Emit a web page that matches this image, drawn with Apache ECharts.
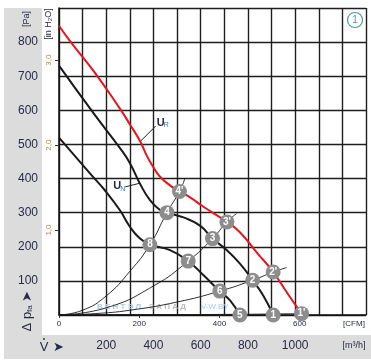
<!DOCTYPE html>
<html><head><meta charset="utf-8">
<script src="https://cdn.jsdelivr.net/npm/echarts@6/dist/echarts.min.js"></script>
<style>html,body{margin:0;padding:0;background:#fff}#c{width:371px;height:364px}</style>
</head><body><div id="c"></div>
<script>
// tick labels
const flowTicks = [200, 400, 600, 800, 1000];      // m3/h
const cfmTicks = [0, 200, 400, 600];                // CFM
const paTicks = [100, 200, 300, 400, 500, 600, 700, 800];
const inH2OTicks = [1, 2, 3];

// fan curves (flow m3/h, pressure Pa)
const qR = [0, 50, 150, 258, 301, 343, 371, 399, 427, 470, 510, 555, 610, 711, 767, 838, 907, 965, 1027];
const pR = [848, 800, 712, 605, 558, 510, 468, 434, 406, 380, 362, 345, 318, 273, 242, 183, 126, 66, 4];
const qN = [0, 150, 266, 301, 343, 386, 428, 457, 527, 597, 650, 711, 767, 820, 866, 907];
const pN = [731, 588, 482, 444, 385, 336, 308, 300, 286, 262, 224, 190, 150, 102, 56, 0];
const qL = [0, 131, 195, 258, 301, 343, 385, 470, 547, 611, 681, 725, 766];
const pL = [520, 415, 365, 307, 258, 224, 206, 190, 158, 117, 70, 42, 0];

// system curves
const qSA = [0, 100, 200, 300, 385, 457, 510, 533];
const pSA = [0, 14, 56, 128, 206, 300, 362, 400];
const qSB = [0, 200, 400, 547, 650, 711, 752];
const pSB = [0, 21, 85, 158, 224, 273, 297];
const qSC = [0, 150, 300, 500, 681, 820, 907, 964];
const pSC = [0, 4, 14, 38, 70, 102, 126, 139];
const qSD = [0, 400, 766, 907, 1027];
const pSD = [0, 1, 2, 3, 4];

// operating points
const ptNames = ['1', '2', '3', '4', '5', '6', '7', '8', "1'", "2'", "3'", "4'"];
const ptQ = [907, 820, 650, 457, 766, 681, 547, 385, 1027, 907, 711, 510];
const ptP = [0, 102, 224, 300, 0, 70, 158, 206, 4, 126, 273, 362];

const zip = (a, b) => a.map((v, i) => [v, b[i]]);
const CFM = 1.69901;
const navy = '#262b47';
const gridCol = '#1e1e1e';

const chart = echarts.init(document.getElementById('c'), null, {renderer: 'canvas'});

function sysSeries(q, p) {
  return {type: 'line', data: zip(q, p), smooth: 0.5, showSymbol: false,
    lineStyle: {color: '#1a1a1a', width: 0.9}, z: 3, silent: true};
}

const option = {
  backgroundColor: '#fff',
  animation: false,
  grid: {left: 59, top: 8, width: 307, height: 307, containLabel: false},
  xAxis: [
    {type: 'value', min: 0, max: 1300, interval: 100, position: 'bottom',
     axisLine: {show: true, onZero: false, lineStyle: {color: '#111', width: 1.5}},
     axisTick: {show: false},
     splitLine: {show: true, lineStyle: {color: gridCol, width: 1.4}},
     axisLabel: {show: true, margin: 25, fontSize: 12, color: navy, fontFamily: 'Liberation Sans, Arial, sans-serif',
       formatter: v => flowTicks.includes(v) ? String(v) : ''}},
    {type: 'value', min: 0, max: 1300 / CFM, interval: 200, position: 'bottom',
     axisLine: {show: false}, splitLine: {show: false},
     axisTick: {show: true, inside: false, length: 3, lineStyle: {color: '#333', width: 1}},
     axisLabel: {show: true, margin: 5, fontSize: 8, color: navy, fontFamily: 'Liberation Sans, Arial, sans-serif',
       showMaxLabel: false, formatter: v => cfmTicks.includes(v) ? String(v) : ''}}
  ],
  yAxis: [
    {type: 'value', min: 0, max: 900, interval: 100, position: 'left',
     axisLine: {show: true, onZero: false, lineStyle: {color: '#111', width: 1.5}},
     axisTick: {show: false},
     splitLine: {show: true, lineStyle: {color: gridCol, width: 1.4}},
     axisLabel: {show: true, margin: 21, fontSize: 12, color: navy, fontFamily: 'Liberation Sans, Arial, sans-serif',
       formatter: v => paTicks.includes(v) ? String(v) : ''}},
    {type: 'value', min: 0, max: 900 / 249.089, interval: 1, position: 'left',
     axisLine: {show: false}, splitLine: {show: false},
     axisTick: {show: true, length: 4, lineStyle: {color: '#333', width: 1}},
     axisLabel: {show: true, margin: 6, rotate: 90, fontSize: 8, color: '#b88a45', fontFamily: 'Liberation Sans, Arial, sans-serif',
       showMaxLabel: false, showMinLabel: false,
       formatter: v => inH2OTicks.includes(Math.round(v * 1000) / 1000) ? v.toFixed(1).replace('.', ',') : ''}}
  ],
  series: [
    sysSeries(qSA, pSA), sysSeries(qSB, pSB), sysSeries(qSC, pSC), sysSeries(qSD, pSD),
    {type: 'line', data: zip(qL, pL), smooth: 0.5, showSymbol: false,
     lineStyle: {color: '#1a1a1a', width: 2}, z: 4},
    {type: 'line', data: zip(qN, pN), smooth: 0.5, showSymbol: false,
     lineStyle: {color: '#1a1a1a', width: 2}, z: 4},
    {type: 'line', data: zip(qR, pR), smooth: 0.5, showSymbol: false,
     lineStyle: {color: '#e8141c', width: 2}, z: 5},
    {type: 'scatter', data: ptNames.map((n, i) => ({name: n, value: [ptQ[i], ptP[i]]})),
     symbolSize: 15, itemStyle: {color: '#8d8d8d', opacity: 1}, z: 6,
     label: {show: true, position: 'inside', formatter: p => p.name, color: '#fff', fontSize: 10,
       fontWeight: 'bold', fontFamily: 'Liberation Sans, Arial, sans-serif'}}
  ],
  graphic: [
    {id: 'bandL', type: 'rect', z: -10, silent: true, shape: {x: 4, y: 8, width: 38, height: 327}, style: {fill: '#dcdcdc'}},
    {id: 'bandB', type: 'rect', z: -10, silent: true, shape: {x: 4, y: 335, width: 367, height: 24}, style: {fill: '#dcdcdc'}}
  ]
};
chart.setOption(option);

const px = (q, p) => chart.convertToPixel({xAxisIndex: 0, yAxisIndex: 0}, [q, p]);
const font = 'Liberation Sans, Arial, sans-serif';
const aR = px(346, 510);
const aN = px(340, 386);
const o = px(0, 0);
const tr = px(1300, 900);
const g = [];
// U_R label
g.push({id: 'lr', type: 'line', z: 20, shape: {x1: aR[0], y1: aR[1], x2: aR[0] + 15, y2: aR[1] - 15}, style: {stroke: '#222', lineWidth: 1}});
g.push({id: 'tr1', type: 'text', z: 20, x: aR[0] + 16, y: aR[1] - 18.5, style: {text: 'U', font: 'bold 11px ' + font, fill: navy, verticalAlign: 'middle'}});
g.push({id: 'tr2', type: 'text', z: 20, x: aR[0] + 23, y: aR[1] - 15.5, style: {text: 'R', font: '7px ' + font, fill: '#2e74c0', verticalAlign: 'middle'}});
// U_N label
g.push({id: 'ln', type: 'line', z: 20, shape: {x1: aN[0], y1: aN[1], x2: aN[0] - 14, y2: aN[1] + 3.5}, style: {stroke: '#222', lineWidth: 1}});
g.push({id: 'tn1', type: 'text', z: 20, x: aN[0] - 26, y: aN[1] + 3, style: {text: 'U', font: 'bold 11px ' + font, fill: navy, verticalAlign: 'middle'}});
g.push({id: 'tn2', type: 'text', z: 20, x: aN[0] - 19, y: aN[1] + 5.5, style: {text: 'N', font: '7px ' + font, fill: '#2e74c0', verticalAlign: 'middle'}});
// axis names
g.push({id: 'pa', type: 'text', z: 20, x: 27, y: 19, rotation: Math.PI / 2, style: {text: '[Pa]', font: '9px ' + font, fill: navy, align: 'center', verticalAlign: 'middle'}});
g.push({id: 'inh', type: 'text', z: 20, x: 49, y: 24, rotation: Math.PI / 2, style: {text: '[in H\u2082O]', font: '9px ' + font, fill: navy, align: 'center', verticalAlign: 'middle'}});
g.push({id: 'dp', type: 'text', z: 20, x: 27, y: 311, rotation: Math.PI / 2,
  style: {text: '\u0394 p{s|fa} \u27A4', font: '13px ' + font, fill: navy, align: 'center', verticalAlign: 'middle',
    rich: {s: {fontSize: 8, fill: navy, padding: [6, 0, 0, 0]}}}});
g.push({id: 'vd', type: 'text', z: 20, x: 44, y: 347, style: {text: 'V', font: '13px ' + font, fill: navy, align: 'center', verticalAlign: 'middle'}});
g.push({id: 'vdot', type: 'circle', z: 20, shape: {cx: 44, cy: 339, r: 0.9}, style: {fill: navy}});
g.push({id: 'varr', type: 'text', z: 20, x: 58, y: 347, style: {text: '\u27A4', font: '13px ' + font, fill: navy, align: 'center', verticalAlign: 'middle'}});
g.push({id: 'ucfm', type: 'text', z: 20, x: 354, y: o[1] + 9, style: {text: '[CFM]', font: '8px ' + font, fill: navy, align: 'center', verticalAlign: 'middle'}});
g.push({id: 'um3', type: 'text', z: 20, x: 354, y: 346, style: {text: '[m\u00B3/h]', font: '9px ' + font, fill: navy, align: 'center', verticalAlign: 'middle'}});
// badge
g.push({id: 'bc', type: 'circle', z: 20, shape: {cx: tr[0] - 11, cy: tr[1] + 12, r: 7.5}, style: {fill: '#fff', stroke: '#4a9f94', lineWidth: 1.2}});
g.push({id: 'bt', type: 'text', z: 21, x: tr[0] - 11, y: tr[1] + 12.5, style: {text: '1', font: '10px ' + font, fill: '#4a9f94', align: 'center', verticalAlign: 'middle'}});
// watermark
g.push({id: 'wm1', type: 'text', z: 2, x: o[0] + 38, y: o[1] - 8, style: {text: '\u0412 \u0415 \u041D \u0422 \u042D \u041B', font: 'bold 8px ' + font, fill: '#a9cbe8', verticalAlign: 'middle'}});
g.push({id: 'wm2', type: 'text', z: 2, x: o[0] + 90, y: o[1] - 8, style: {text: '\u0417 \u0410 \u041F \u0410 \u0414', font: 'bold 8px ' + font, fill: '#bcbcbc', verticalAlign: 'middle'}});
g.push({id: 'wm3', type: 'text', z: 2, x: o[0] + 142, y: o[1] - 8, style: {text: 'V-W.BY', font: '8px ' + font, fill: '#a9cbe8', verticalAlign: 'middle'}});
chart.setOption({graphic: g});
</script></body></html>
